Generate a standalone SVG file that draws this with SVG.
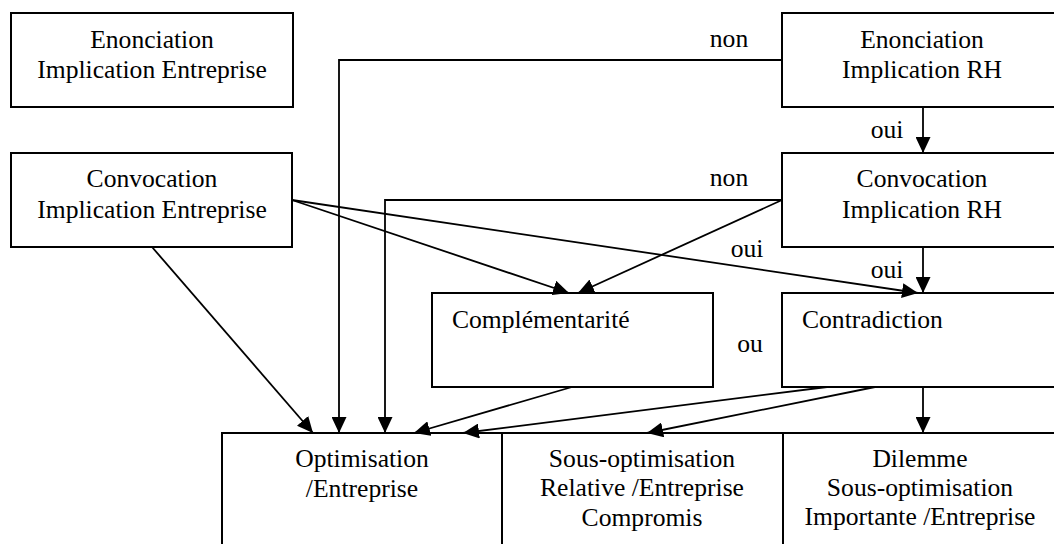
<svg xmlns="http://www.w3.org/2000/svg" width="1054" height="544" viewBox="0 0 1054 544">
<style>
.box{fill:#fff;stroke:#000;stroke-width:2}
.t{font-family:"Liberation Serif","Times New Roman",serif;font-size:25.6px;fill:#000}
.c{text-anchor:middle}
.ln{fill:none;stroke:#000;stroke-width:1.8}
</style>
<defs>
<marker id="ah" markerUnits="userSpaceOnUse" markerWidth="16" markerHeight="15" viewBox="0 0 16 15" refX="16" refY="7.5" orient="auto">
<path d="M0,0 L16,7.5 L0,15 Z" fill="#000"/>
</marker>
</defs>
<rect width="1054" height="544" fill="#fff"/>
<g id="enonc-ent"><rect class="box" x="11" y="13" width="282" height="94"/><text class="t c" x="152" y="48">Enonciation</text><text class="t c" x="152" y="78">Implication Entreprise</text></g>
<g id="enonc-rh"><rect class="box" x="782" y="13" width="290" height="94"/><text class="t c" x="922" y="48">Enonciation</text><text class="t c" x="922" y="78">Implication RH</text></g>
<g id="convoc-ent"><rect class="box" x="11" y="153" width="281" height="94"/><text class="t c" x="152" y="187">Convocation</text><text class="t c" x="152" y="218">Implication Entreprise</text></g>
<g id="convoc-rh"><rect class="box" x="782" y="153" width="290" height="94"/><text class="t c" x="922" y="187">Convocation</text><text class="t c" x="922" y="218">Implication RH</text></g>
<g id="compl"><rect class="box" x="432" y="293" width="281" height="94"/><text class="t" x="452" y="328">Complémentarité</text></g>
<g id="contra"><rect class="box" x="782" y="293" width="290" height="94"/><text class="t" x="802" y="328">Contradiction</text></g>
<g id="optim"><rect class="box" x="222" y="433" width="280" height="130"/><text class="t c" x="362" y="467">Optimisation</text><text class="t c" x="362" y="497">/Entreprise</text></g>
<g id="sous-optim"><rect class="box" x="502" y="433" width="281" height="130"/><text class="t c" x="642" y="467">Sous-optimisation</text><text class="t c" x="642" y="496">Relative /Entreprise</text><text class="t c" x="642" y="526">Compromis</text></g>
<g id="dilemme"><rect class="box" x="783" y="433" width="290" height="130"/><text class="t c" x="920" y="467">Dilemme</text><text class="t c" x="920" y="496">Sous-optimisation</text><text class="t c" x="920" y="525">Importante /Entreprise</text></g>
<g id="connectors">
<polyline class="ln" points="782,60 339,60 339,433" marker-end="url(#ah)"/>
<polyline class="ln" points="782,200 385,200 385,433" marker-end="url(#ah)"/>
<line class="ln" x1="782" y1="200" x2="578" y2="293" marker-end="url(#ah)"/>
<line class="ln" x1="292" y1="200" x2="569" y2="293" marker-end="url(#ah)"/>
<line class="ln" x1="292" y1="200" x2="918" y2="293" marker-end="url(#ah)"/>
<line class="ln" x1="152" y1="247" x2="313" y2="433" marker-end="url(#ah)"/>
<line class="ln" x1="572" y1="387" x2="414" y2="433" marker-end="url(#ah)"/>
<line class="ln" x1="827" y1="387" x2="463" y2="433" marker-end="url(#ah)"/>
<line class="ln" x1="875" y1="387" x2="647" y2="433" marker-end="url(#ah)"/>
<line class="ln" x1="923" y1="387" x2="923" y2="433" marker-end="url(#ah)"/>
<line class="ln" x1="923" y1="107" x2="923" y2="153" marker-end="url(#ah)"/>
<line class="ln" x1="923" y1="247" x2="923" y2="293" marker-end="url(#ah)"/>
</g>
<g id="labels">
<text class="t c" x="729" y="47">non</text>
<text class="t c" x="729" y="186">non</text>
<text class="t c" x="747" y="257">oui</text>
<text class="t c" x="887" y="138">oui</text>
<text class="t c" x="887" y="278">oui</text>
<text class="t c" x="750" y="352">ou</text>
</g>
</svg>
